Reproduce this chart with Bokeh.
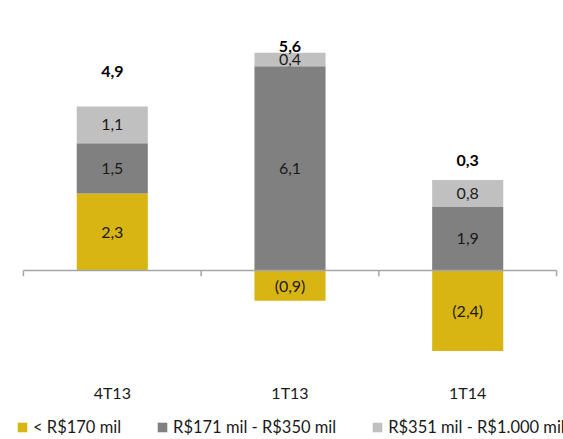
from bokeh.plotting import figure
from bokeh.models import Range1d, ColumnDataSource, Legend, LegendItem
from bokeh.core.properties import value
from bokeh.embed import file_html
from bokeh.resources import INLINE

categories = ["4T13", "1T13", "1T14"]
series_names = ["< R$170 mil", "R$171 mil - R$350 mil", "R$351 mil - R$1.000 mil"]
small = [2.3, -0.9, -2.4]
mid = [1.5, 6.1, 1.9]
large = [1.1, 0.4, 0.8]
totals = [4.9, 5.6, 0.3]

colors = ["#D9B514", "#808080", "#C0C0C0"]
total_label_offset = [1.04, 0.18, 0.58]
FONT = "Lato"

def fmt(v):
    s = f"{abs(v):.1f}".replace(".", ",")
    return f"({s})" if v < 0 else s

xs = [i + 0.5 for i in range(len(categories))]

p = figure(width=563, height=439, output_backend="svg", toolbar_location=None,
           x_range=Range1d(-0.129, 3.039), y_range=Range1d(-5.04, 8.06),
           min_border=0, outline_line_color=None)
p.axis.visible = False
p.grid.visible = False

# stacked segments
s_bottom = [0.0] * 3
s_top = small
m_bottom = [max(v, 0) for v in small]
m_top = [b + v for b, v in zip(m_bottom, mid)]
l_bottom = m_top
l_top = [b + v for b, v in zip(l_bottom, large)]

r1 = p.vbar(x=xs, bottom=s_bottom, top=s_top, width=0.4, fill_color=colors[0], line_color=None)
r2 = p.vbar(x=xs, bottom=m_bottom, top=m_top, width=0.4, fill_color=colors[1], line_color=None)
r3 = p.vbar(x=xs, bottom=l_bottom, top=l_top, width=0.4, fill_color=colors[2], line_color=None)

# axis line and ticks
n = len(categories)
p.segment(x0=[0], y0=[0], x1=[n], y1=[0], line_color="#A6A6A6", line_width=1.5)
p.segment(x0=list(range(n + 1)), y0=[0] * (n + 1), x1=list(range(n + 1)), y1=[-0.17] * (n + 1),
          line_color="#A6A6A6", line_width=1.5)

# segment labels
for bottoms, tops, vals in [(s_bottom, s_top, small), (m_bottom, m_top, mid), (l_bottom, l_top, large)]:
    src = ColumnDataSource(dict(x=xs, y=[(b + t) / 2 for b, t in zip(bottoms, tops)],
                                t=[fmt(v) for v in vals]))
    p.text(x="x", y="y", text="t", source=src, text_align="center", text_baseline="middle",
           text_font=value(FONT), text_font_size="16px", text_color="#1a1a1a")

# total labels
src = ColumnDataSource(dict(x=xs, y=[t + o for t, o in zip(l_top, total_label_offset)],
                            t=[fmt(v) for v in totals]))
p.text(x="x", y="y", text="t", source=src, text_align="center", text_baseline="middle",
       text_font=value(FONT), text_font_size="16px", text_font_style="bold", text_color="#000000")

# category labels
src = ColumnDataSource(dict(x=xs, y=[-3.64] * n, t=categories))
p.text(x="x", y="y", text="t", source=src, text_align="center", text_baseline="middle",
       text_font=value(FONT), text_font_size="16px", text_color="#1a1a1a")

legend = Legend(items=[LegendItem(label=series_names[0], renderers=[r1]),
                       LegendItem(label=series_names[1], renderers=[r2]),
                       LegendItem(label=series_names[2], renderers=[r3])],
                orientation="horizontal", location=(16, 2), spacing=35,
                glyph_width=12, glyph_height=12, label_standoff=5,
                padding=0, margin=0, border_line_color=None, background_fill_alpha=0,
                label_text_font=FONT, label_text_font_size="16.5px", label_text_color="#1a1a1a",
                label_height=14)
p.add_layout(legend, "center")

open("out.html", "w").write(file_html(p, INLINE))
